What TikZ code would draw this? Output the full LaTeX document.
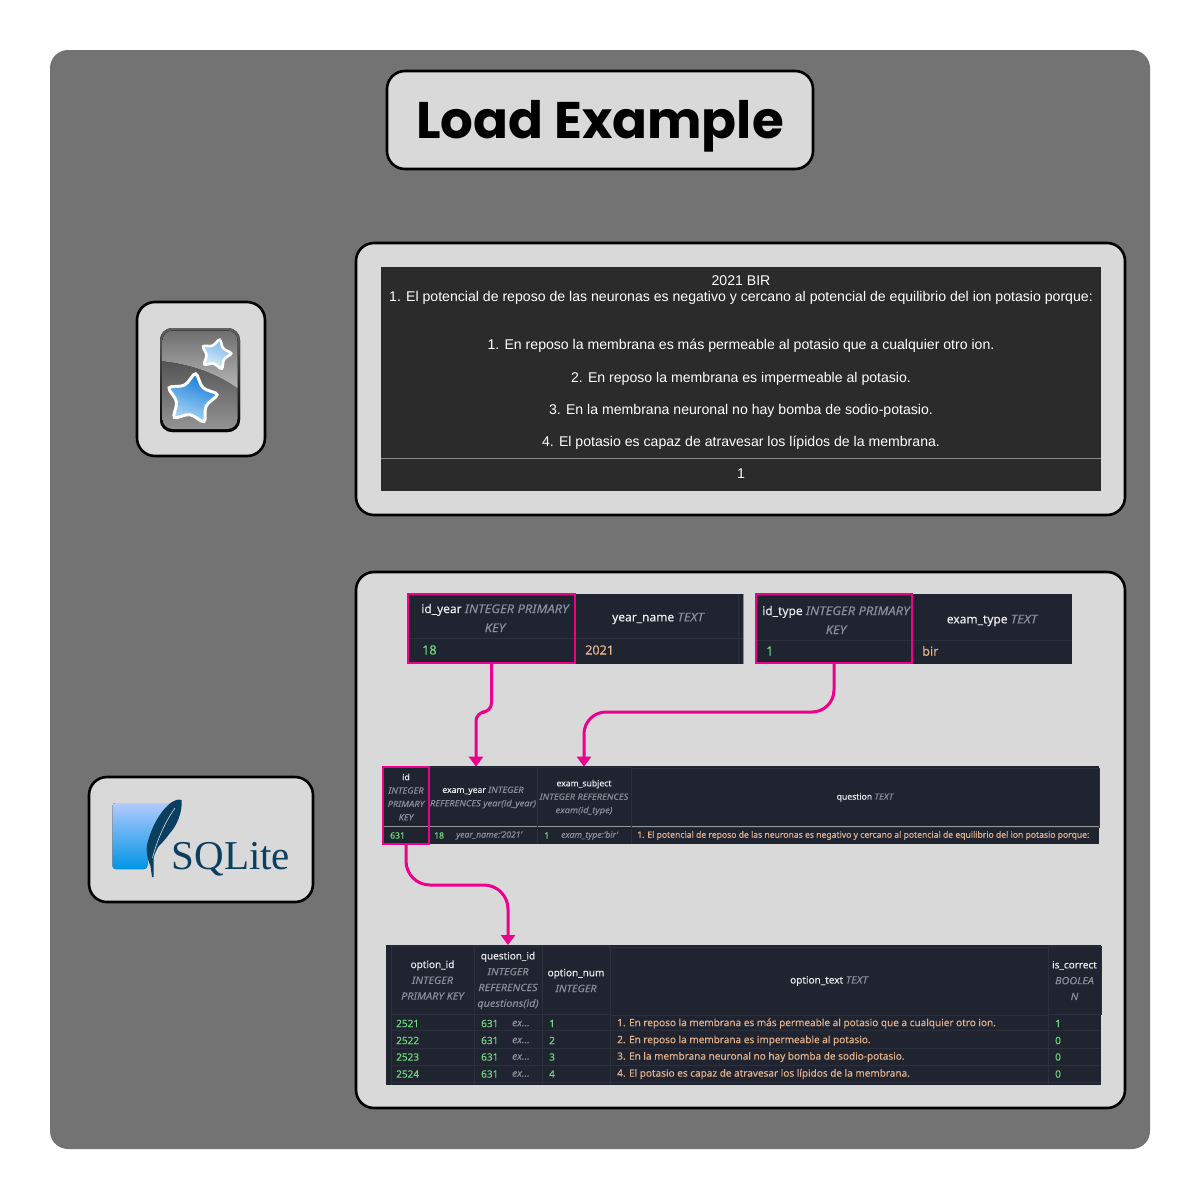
\documentclass[tikz,border=0pt]{standalone}
\usepackage{fontspec}
\setmainfont{Noto Sans}[FakeBold=0.25]
\newfontfamily\titlefont{Poppins}
\newfontfamily\cardfont{Liberation Sans}
\newfontfamily\logofont{Liberation Serif}
\usetikzlibrary{
    arrows.meta,
    shapes.geometric,
}
\definecolor{pagegray}{HTML}{737373}
\definecolor{panelgray}{HTML}{D9D9D9}
\definecolor{carddark}{HTML}{2B2B2B}
\definecolor{tabledark}{HTML}{1F2430}
\definecolor{gridline}{HTML}{2B303C}
\definecolor{linkpink}{HTML}{EC008C}
\definecolor{numgreen}{HTML}{72D67F}
\definecolor{txtorange}{HTML}{E3B18A}
\definecolor{typegray}{HTML}{8B8E98}
\definecolor{headwhite}{HTML}{E9EAEC}
\definecolor{logonavy}{HTML}{0B3F60}
\definecolor{starblue}{HTML}{0A77D8}
\definecolor{starpale}{HTML}{B4DAF6}
\newcommand{\ty}[1]{{\itshape\addfontfeature{FakeStretch=1.08}\color{typegray}#1}}
\tikzset{
    panel/.style={draw=black, line width=2.6pt, fill=panelgray, rounded corners=18pt, inner sep=0pt},
    cardline/.style={text=white, font=\cardfont\fontsize{14.1}{16}\selectfont, inner sep=0pt},
    hcell/.style={draw=gridline, line width=.7pt, fill=tabledark, text=headwhite, align=center, inner sep=0pt, anchor=center},
    pkcell/.style={draw=linkpink, line width=2.4pt},
    bighead/.style={font=\fontsize{12}{19}\selectfont},
    bigtab/.style={font=\fontsize{12.6}{19}\selectfont},
    midhead/.style={font=\fontsize{8.6}{13.4}\selectfont},
    midtab/.style={font=\fontsize{8.6}{13.4}\selectfont},
    lowtab/.style={font=\fontsize{10}{15.8}\selectfont},
    val/.style={anchor=west, inner sep=0pt},
    num/.style={val, text=numgreen},
    str/.style={val, text=txtorange},
    link/.style={draw=linkpink, line width=3pt, rounded corners=20pt},
    linktip/.style={-{Triangle[length=10pt,width=14pt]}},
    bigstar/.style={star, star points=5, star point ratio=1.85, inner sep=0pt, draw=white},
}
\begin{document}
\begin{tikzpicture}[x=1pt, y=-1pt]
    \useasboundingbox (0,0) rectangle (1200,1200);
    \fill[pagegray, rounded corners=18pt] (50,50) rectangle (1150,1149);

    % title
    \node[panel, minimum width=426, minimum height=98, text height=40pt, text depth=4pt, font=\titlefont\bfseries\fontsize{51.5}{54}\selectfont] (Title) at (600,120) {Load Example};

    % panels
    \draw[panel] (137,302) rectangle (265,456);
    \draw[panel] (89,777) rectangle (313,902);
    \draw[panel] (356,243) rectangle (1125,515);
    \draw[panel] (356,572) rectangle (1125,1108);

    % anki icon
    \fill[rounded corners=12pt, top color=black!62, bottom color=black] (160,328) rectangle (240,432);
    \begin{scope}
        \clip[rounded corners=10pt] (162.5,330.5) rectangle (237.5,429);
        \fill[top color=black!78, bottom color=black!42] (162,330) rectangle (238,430);
        \fill[top color=black!58, bottom color=black!28] (160,328) -- (240,328) -- (240,390) .. controls (218,374) and (192,364) .. (160,361) -- cycle;
    \end{scope}
    \node[bigstar, minimum size=55pt, rounded corners=4pt, line width=3pt, shape border rotate=-8, top color=starblue, bottom color=starpale, shading angle=-20] (BigStar) at (192,399) {};
    \node[bigstar, minimum size=33pt, rounded corners=2.5pt, line width=2.6pt, shape border rotate=-14, top color=starblue!55!white, bottom color=starpale!40!white, shading angle=-20] (SmallStar) at (216,354.5) {};

    % sqlite logo
    \fill[rounded corners=3pt, top color=cyan!30!blue!30!white, bottom color=cyan!65!blue!90!black] (112.5,803) -- (172,803) .. controls (160,815) and (150,840) .. (147,869) -- (112.5,869) -- cycle;
    \fill[logonavy] (181.5,800) .. controls (183,812) and (176,827) .. (170,833) .. controls (165,840) and (160,845) .. (158,847) .. controls (156,851) and (154,855) .. (153.5,859) -- (153.5,877) -- (152,877) -- (150.5,866) .. controls (147,858) and (146,850) .. (147,845) .. controls (150,832) and (158,812) .. (172,802) .. controls (175,800) and (178,799) .. (181.5,800) -- cycle;
    \draw[panelgray, line width=.6pt] (175,808) .. controls (165,822) and (157,840) .. (152.5,858);
    \node[text=logonavy, inner sep=0pt, anchor=base west, font=\logofont\fontsize{41}{44}\selectfont] (LogoText) at (171.5,869) {SQLite};

    % card
    \fill[carddark] (381,267) rectangle (1101,491);
    \draw[black!45, line width=1pt] (381,458) -- (1101,458);
    \node[cardline] (CardHead) at (741,281) {2021 BIR};
    \node[cardline] (CardQ) at (741,298) {1. El potencial de reposo de las neuronas es negativo y cercano al potencial de equilibrio del ion potasio porque:};
    \node[cardline] (CardA) at (741,346) {1. En reposo la membrana es más permeable al potasio que a cualquier otro ion.};
    \node[cardline] (CardB) at (741,378.5) {2. En reposo la membrana es impermeable al potasio.};
    \node[cardline] (CardC) at (741,411) {3. En la membrana neuronal no hay bomba de sodio-potasio.};
    \node[cardline] (CardD) at (741,443) {4. El potasio es capaz de atravesar los lípidos de la membrana.};
    \node[cardline] (CardAns) at (741,474) {1};

    % table year
    \fill[tabledark] (408,594) rectangle (743,664);
    \draw[gridline, line width=.7pt] (408,638) -- (743,638) (738,594) -- (738,664);
    \draw[black!45, line width=1pt] (743,594) -- (743,664);
    \node[hcell, bighead, minimum width=160, minimum height=44, draw=none, fill=none] (YearName) at (658,618.5) {year\_name \ty{TEXT}};
    \node[num, bigtab] (YearIdVal) at (422,650) {18};
    \node[str, bigtab] (YearNameVal) at (585,650) {2021};
    \node[hcell, bighead, pkcell, fill=none, minimum width=167, minimum height=69] (YearId) at (491.5,628.5) {};
    \node[text=headwhite, align=center, bighead, inner sep=0pt] (YearIdHead) at (495,618) {id\_year \ty{INTEGER PRIMARY}\\ \ty{KEY}};

    % table exam
    \fill[tabledark] (756,594) rectangle (1072,664);
    \draw[gridline, line width=.7pt] (756,640) -- (1072,640);
    \node[hcell, bighead, minimum width=158, minimum height=46, draw=none, fill=none] (ExamName) at (992,620.5) {exam\_type \ty{TEXT}};
    \node[num, bigtab] (ExamIdVal) at (766,651) {1};
    \node[str, bigtab] (ExamNameVal) at (922,651) {bir};
    \node[hcell, bighead, pkcell, fill=none, minimum width=156, minimum height=69] (ExamId) at (834,628.5) {};
    \node[text=headwhite, align=center, bighead, inner sep=0pt] (ExamIdHead) at (836,620) {id\_type \ty{INTEGER PRIMARY}\\ \ty{KEY}};

    % table questions
    \fill[tabledark] (383,766) rectangle (1099,844);
    \node[hcell, midhead, minimum width=108, minimum height=59] (QuYear) at (483,796.5) {};
    \node[hcell, midhead, minimum width=94, minimum height=59] (QuExam) at (584,796.5) {};
    \node[hcell, midhead, minimum width=468, minimum height=59] (QuText) at (865,797.5) {question \ty{TEXT}};
    \node[text=headwhite, align=center, midhead, inner sep=0pt] (QuYearHead) at (483,797.5) {exam\_year \ty{INTEGER}\\ \ty{REFERENCES year(id\_year)}};
    \node[text=headwhite, align=center, midhead, inner sep=0pt] (QuExamHead) at (584,797.5) {exam\_subject\\ \ty{INTEGER REFERENCES}\\ \ty{exam(id\_type)}};
    \draw[black!40, line width=1pt] (383,826) -- (1099,826);
    \draw[gridline, line width=.7pt] (429,826) -- (429,844) (537,826) -- (537,844) (631,826) -- (631,844);
    \node[num, midtab] (QuIdVal) at (390,835.5) {631};
    \node[num, midtab] (QuYearVal) at (434,835.5) {18};
    \node[val, midtab, text=typegray] (QuYearRef) at (456,835.5) {\itshape year\_name:'2021'};
    \node[num, midtab] (QuExamVal) at (544,835.5) {1};
    \node[val, midtab, text=typegray] (QuExamRef) at (561,835.5) {\itshape exam\_type:'bir'};
    \node[str, midtab] (QuTextVal) at (637,835.5) {1. El potencial de reposo de las neuronas es negativo y cercano al potencial de equilibrio del ion potasio porque:};
    \node[hcell, midhead, pkcell, fill=none, minimum width=46, minimum height=77] (QuId) at (406,805.5) {};
    \node[text=headwhite, align=center, midhead, inner sep=0pt] (QuIdHead) at (406,797) {id\\ \ty{INTEGER}\\ \ty{PRIMARY}\\ \ty{KEY}};

    % table options
    \fill[tabledark] (386,945) rectangle (1101,1085);
    \node[hcell, lowtab, minimum width=83, minimum height=68] (OpId) at (432.5,980) {option\_id\\ \ty{INTEGER}\\ \ty{PRIMARY KEY}};
    \node[hcell, lowtab, minimum width=68, minimum height=68] (OpQu) at (508,980.5) {question\_id\\ \ty{INTEGER}\\ \ty{REFERENCES}\\ \ty{questions(id)}};
    \node[hcell, lowtab, minimum width=68, minimum height=68] (OpNum) at (576,980.5) {option\_num\\ \ty{INTEGER}};
    \node[hcell, lowtab, minimum width=438, minimum height=68] (OpText) at (829,981) {option\_text \ty{TEXT}};
    \node[hcell, lowtab, minimum width=53, minimum height=68] (OpOk) at (1074.5,980.5) {is\_correct\\ \ty{BOOLEA}\\ \ty{N}};
    \draw[gridline, line width=.7pt] (391,1030.5) -- (1101,1030.5) (391,1048) -- (1101,1048) (391,1065) -- (1101,1065) (391,1082) -- (1101,1082);
    \draw[gridline, line width=.7pt] (391,945) -- (391,1085) (474,1013) -- (474,1085) (542,1013) -- (542,1085) (610,1013) -- (610,1085) (1048,1013) -- (1048,1085);
    \node[num, lowtab] (RowAId) at (396,1023.5) {2521};
    \node[num, lowtab] (RowAQu) at (481,1023.5) {631};
    \node[val, lowtab, text=typegray] (RowARef) at (512,1023.5) {\itshape ex...};
    \node[num, lowtab] (RowANum) at (549,1023.5) {1};
    \node[str, lowtab] (RowAText) at (617,1023.5) {1. En reposo la membrana es más permeable al potasio que a cualquier otro ion.};
    \node[num, lowtab] (RowAOk) at (1055,1023.5) {1};
    \node[num, lowtab] (RowBId) at (396,1040.5) {2522};
    \node[num, lowtab] (RowBQu) at (481,1040.5) {631};
    \node[val, lowtab, text=typegray] (RowBRef) at (512,1040.5) {\itshape ex...};
    \node[num, lowtab] (RowBNum) at (549,1040.5) {2};
    \node[str, lowtab] (RowBText) at (617,1040.5) {2. En reposo la membrana es impermeable al potasio.};
    \node[num, lowtab] (RowBOk) at (1055,1040.5) {0};
    \node[num, lowtab] (RowCId) at (396,1057) {2523};
    \node[num, lowtab] (RowCQu) at (481,1057) {631};
    \node[val, lowtab, text=typegray] (RowCRef) at (512,1057) {\itshape ex...};
    \node[num, lowtab] (RowCNum) at (549,1057) {3};
    \node[str, lowtab] (RowCText) at (617,1057) {3. En la membrana neuronal no hay bomba de sodio-potasio.};
    \node[num, lowtab] (RowCOk) at (1055,1057) {0};
    \node[num, lowtab] (RowDId) at (396,1074) {2524};
    \node[num, lowtab] (RowDQu) at (481,1074) {631};
    \node[val, lowtab, text=typegray] (RowDRef) at (512,1074) {\itshape ex...};
    \node[num, lowtab] (RowDNum) at (549,1074) {4};
    \node[str, lowtab] (RowDText) at (617,1074) {4. El potasio es capaz de atravesar los lípidos de la membrana.};
    \node[num, lowtab] (RowDOk) at (1055,1074) {0};

    % links
    \coordinate (YearIn) at ([xshift=-7pt]QuYear.north);
    \coordinate (OptIn) at (OpQu.center |- 0,945);
    \draw[link, linktip, rounded corners=9pt] (YearId.south) -- (YearId.south |- 0,712) -- (YearIn |- 0,712) -- (YearIn);
    \draw[link, linktip, rounded corners=22pt] (ExamId.south) -- (ExamId.south |- 0,712) -- (QuExam.north |- 0,712) -- (QuExam.north);
    \draw[link, linktip, rounded corners=24pt] (QuId.south) -- (QuId.south |- 0,885) -- (OptIn |- 0,885) -- (OptIn);
\end{tikzpicture}
\end{document}
